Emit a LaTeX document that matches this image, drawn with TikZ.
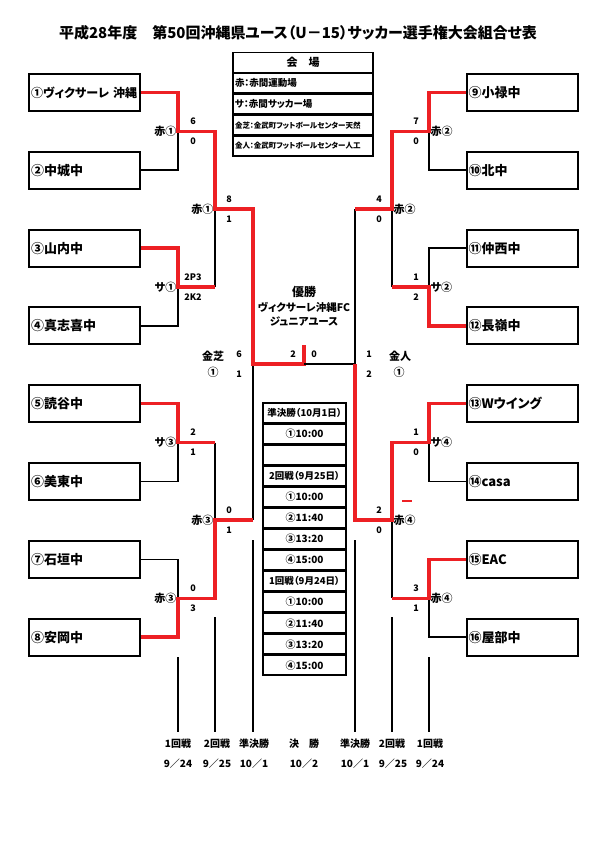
\documentclass[tikz,border=0pt]{standalone}
\usepackage{fontspec}
\setmainfont{Noto Sans CJK JP}[RawFeature=+palt]
\usetikzlibrary{positioning}
\definecolor{winred}{RGB}{237,32,36}

\begin{document}
\begin{tikzpicture}[x=1pt, y=-1pt,
  team/.style={draw, line width=2pt, minimum width=111pt, minimum height=37pt, text width=107pt, inner sep=2pt, align=left, font=\fontsize{13}{15}\selectfont\bfseries},
  legcell/.style={draw, line width=1.4pt, minimum width=140pt, minimum height=19.5pt, text width=136pt, inner sep=2pt, align=left, font=\fontsize{9.5}{10}\selectfont\bfseries},
  schedcell/.style={draw, line width=1.6pt, minimum width=83pt, minimum height=19.45pt, inner sep=1pt, font=\fontsize{10}{10}\selectfont\bfseries},
  schedhead/.style={schedcell, font=\fontsize{9.5}{10}\selectfont\bfseries},
  score/.style={inner sep=0pt, font=\fontsize{9}{9}\selectfont\bfseries},
  venue/.style={inner sep=1.5pt, font=\fontsize{11}{11}\selectfont\bfseries},
  daylabel/.style={inner sep=0pt, font=\fontsize{10}{10}\selectfont\bfseries},
  win/.style={winred, line width=3.4pt},
  lose/.style={black, line width=1.6pt},
  pole/.style={black, line width=1.8pt}
]
  \useasboundingbox (0,0) rectangle (595,842);

  % Title
  \node[font=\fontsize{15}{15}\selectfont\bfseries] (title) at (298,33)
    {平成28年度　第50回沖縄県ユース（U－15）サッカー選手権大会組合せ表};

  % Venue legend
  \node[legcell, align=center, font=\fontsize{11}{11}\selectfont\bfseries] (leg0) at (303,62.5) {会　場};
  \node[legcell, below=0pt of leg0] (leg1) {赤：赤間運動場};
  \node[legcell, below=0pt of leg1] (leg2) {サ：赤間サッカー場};
  \node[legcell, below=0pt of leg2, font=\fontsize{7.5}{8}\selectfont\bfseries] (leg3) {金芝：金武町フットボールセンター天然};
  \node[legcell, below=0pt of leg3, font=\fontsize{7.5}{8}\selectfont\bfseries] (leg4) {金人：金武町フットボールセンター人工};

  % Left teams
  \node[team, font=\fontsize{12}{14}\selectfont\bfseries] (t1) at (84.5,92.5) {①ヴィクサーレ 沖縄};
  \node[team] (t2) at (84.5,170.3) {②中城中};
  \node[team] (t3) at (84.5,248.1) {③山内中};
  \node[team] (t4) at (84.5,325.9) {④真志喜中};
  \node[team] (t5) at (84.5,403.7) {⑤読谷中};
  \node[team] (t6) at (84.5,481.5) {⑥美東中};
  \node[team] (t7) at (84.5,559.3) {⑦石垣中};
  \node[team] (t8) at (84.5,637.1) {⑧安岡中};

  % Right teams
  \node[team] (t9) at (522,92.5) {⑨小禄中};
  \node[team] (t10) at (522,170.3) {⑩北中};
  \node[team] (t11) at (522,248.1) {⑪仲西中};
  \node[team] (t12) at (522,325.9) {⑫長嶺中};
  \node[team] (t13) at (522,403.7) {⑬Wウイング};
  \node[team] (t14) at (522,481.5) {⑭casa};
  \node[team] (t15) at (522,559.3) {⑮EAC};
  \node[team] (t16) at (522,637.1) {⑯屋部中};

  % Bracket joints
  \coordinate (m1) at (178,131.4);
  \coordinate (m2) at (178,287);
  \coordinate (m3) at (178,442.6);
  \coordinate (m4) at (178,598.2);
  \coordinate (q1) at (215,209);
  \coordinate (q2) at (215,520);
  \coordinate (s1) at (253,364);
  \coordinate (m5) at (429,131.4);
  \coordinate (m6) at (429,287);
  \coordinate (m7) at (429,442.6);
  \coordinate (m8) at (429,598.2);
  \coordinate (q3) at (392,209);
  \coordinate (q4) at (392,520);
  \coordinate (s2) at (355,364);
  \coordinate (f) at (304,364);
  \coordinate (champ) at (304,345);

  % Left half
  \draw[lose] (t2.east) -| (m1);
  \draw[lose] (t4.east) -| (m2);
  \draw[lose] (t6.east) -| (m3);
  \draw[lose] (t7.east) -| (m4);
  \draw[lose] (m2 -| q1) -- (q1);
  \draw[lose] (m3 -| q2) -- (q2);
  \draw[lose] (q2 -| s1) -- (s1);
  \draw[win] (t1.east) -| (m1) -| (q1) -| (s1) -- (f) -- (champ);
  \draw[win] (t3.east) -| (m2) -- (m2 -| q1);
  \draw[win] (t5.east) -| (m3) -- (m3 -| q2);
  \draw[win] (t8.east) -| (m4) -| (q2) -- (q2 -| s1);

  % Right half
  \draw[lose] (t10.west) -| (m5);
  \draw[lose] (t11.west) -| (m6);
  \draw[lose] (t14.west) -| (m7);
  \draw[lose] (t16.west) -| (m8);
  \draw[lose] (m6 -| q3) -- (q3);
  \draw[lose] (m8 -| q4) -- (q4);
  \draw[lose] (q3 -| s2) -- (s2) -- (f);
  \draw[win] (t9.west) -| (m5) -| (q3) -- (q3 -| s2);
  \draw[win] (t12.west) -| (m6) -- (m6 -| q3);
  \draw[win] (t13.west) -| (m7) -| (q4) -| (s2);
  \draw[win] (t15.west) -| (m8) -- (m8 -| q4);

  % stray red mark
  \coordinate (markA) at (402,501);
  \coordinate (markB) at (412,501);
  \draw[winred, line width=1.6pt] (markA) -- (markB);

  % Venues
  \node[venue, anchor=east] (v1) at (m1) {赤①};
  \node[venue, anchor=east] (v2) at (m2) {サ①};
  \node[venue, anchor=east] (v3) at (m3) {サ③};
  \node[venue, anchor=east] (v4) at (m4) {赤③};
  \node[venue, anchor=east] (v5) at (q1) {赤①};
  \node[venue, anchor=east] (v6) at (q2) {赤③};
  \node[venue, anchor=west] (v7) at (m5) {赤②};
  \node[venue, anchor=west] (v8) at (m6) {サ②};
  \node[venue, anchor=west] (v9) at (m7) {サ④};
  \node[venue, anchor=west] (v10) at (m8) {赤④};
  \node[venue, anchor=west] (v11) at (q3) {赤②};
  \node[venue, anchor=west] (v12) at (q4) {赤④};
  \node[venue] (v13) at (213,356) {金芝};
  \node[venue] (v14) at (213,372) {①};
  \node[venue] (v15) at (400,356) {金人};
  \node[venue] (v16) at (399,372) {①};

  % Scores, left
  \node[score] (sc1a) at (193,121.5) {6};
  \node[score] (sc1b) at (193,141.5) {0};
  \node[score] (sc2a) at (193,277) {2P3};
  \node[score] (sc2b) at (193,297) {2K2};
  \node[score] (sc3a) at (193,432.6) {2};
  \node[score] (sc3b) at (193,452.6) {1};
  \node[score] (sc4a) at (193,588.2) {0};
  \node[score] (sc4b) at (193,608.2) {3};
  \node[score] (sc5a) at (229,199) {8};
  \node[score] (sc5b) at (229,219) {1};
  \node[score] (sc6a) at (229,510) {0};
  \node[score] (sc6b) at (229,530) {1};
  \node[score] (sc7a) at (239,354.5) {6};
  \node[score] (sc7b) at (239,374) {1};

  % Scores, right
  \node[score] (sc8a) at (416,121.5) {7};
  \node[score] (sc8b) at (416,141.5) {0};
  \node[score] (sc9a) at (416,277) {1};
  \node[score] (sc9b) at (416,297) {2};
  \node[score] (sc10a) at (416,432.6) {1};
  \node[score] (sc10b) at (416,452.6) {0};
  \node[score] (sc11a) at (416,588.2) {3};
  \node[score] (sc11b) at (416,608.2) {1};
  \node[score] (sc12a) at (379,199) {4};
  \node[score] (sc12b) at (379,219) {0};
  \node[score] (sc13a) at (379,510) {2};
  \node[score] (sc13b) at (379,530) {0};
  \node[score] (sc14a) at (369,354.5) {1};
  \node[score] (sc14b) at (369,374) {2};

  % Final
  \node[score] (scfa) at (293,354) {2};
  \node[score] (scfb) at (314,354) {0};
  \node[font=\fontsize{12}{12}\selectfont\bfseries, inner sep=0pt] (champ1) at (304,292) {優勝};
  \node[font=\fontsize{10.5}{11}\selectfont\bfseries, inner sep=0pt] (champ2) at (304,307) {ヴィクサーレ沖縄FC};
  \node[font=\fontsize{10.5}{11}\selectfont\bfseries, inner sep=0pt] (champ3) at (304,321) {ジュニアユース};

  % Schedule
  \node[schedhead] (sch0) at (304.5,412.7) {準決勝（10月1日）};
  \node[schedcell, below=0pt of sch0] (sch1) {①10:00};
  \node[schedcell, below=0pt of sch1] (sch2) {};
  \node[schedhead, below=0pt of sch2] (sch3) {2回戦（9月25日）};
  \node[schedcell, below=0pt of sch3] (sch4) {①10:00};
  \node[schedcell, below=0pt of sch4] (sch5) {②11:40};
  \node[schedcell, below=0pt of sch5] (sch6) {③13:20};
  \node[schedcell, below=0pt of sch6] (sch7) {④15:00};
  \node[schedhead, below=0pt of sch7] (sch8) {1回戦（9月24日）};
  \node[schedcell, below=0pt of sch8] (sch9) {①10:00};
  \node[schedcell, below=0pt of sch9] (sch10) {②11:40};
  \node[schedcell, below=0pt of sch10] (sch11) {③13:20};
  \node[schedcell, below=0pt of sch11] (sch12) {④15:00};

  % Round poles
  \coordinate (p1a) at (178,657);
  \coordinate (p1b) at (178,732);
  \coordinate (p2a) at (215,617);
  \coordinate (p2b) at (215,732);
  \coordinate (p3a) at (253,540);
  \coordinate (p3b) at (253,732);
  \coordinate (p4a) at (355,540);
  \coordinate (p4b) at (355,732);
  \coordinate (p5a) at (392,617);
  \coordinate (p5b) at (392,732);
  \coordinate (p6a) at (429,657);
  \coordinate (p6b) at (429,732);
  \draw[pole] (p1a) -- (p1b);
  \draw[pole] (p2a) -- (p2b);
  \draw[pole] (p3a) -- (p3b);
  \draw[pole] (p4a) -- (p4b);
  \draw[pole] (p5a) -- (p5b);
  \draw[pole] (p6a) -- (p6b);

  % Round labels
  \node[daylabel] (r1) at (178,744) {1回戦};
  \node[daylabel] (r2) at (217,744) {2回戦};
  \node[daylabel] (r3) at (254,744) {準決勝};
  \node[daylabel] (r4) at (304,744) {決　勝};
  \node[daylabel] (r5) at (355,744) {準決勝};
  \node[daylabel] (r6) at (392,744) {2回戦};
  \node[daylabel] (r7) at (430,744) {1回戦};
  \node[daylabel] (d1) at (178,764) {9／24};
  \node[daylabel] (d2) at (217,764) {9／25};
  \node[daylabel] (d3) at (254,764) {10／1};
  \node[daylabel] (d4) at (304,764) {10／2};
  \node[daylabel] (d5) at (355,764) {10／1};
  \node[daylabel] (d6) at (393,764) {9／25};
  \node[daylabel] (d7) at (430,764) {9／24};

\end{tikzpicture}
\end{document}
